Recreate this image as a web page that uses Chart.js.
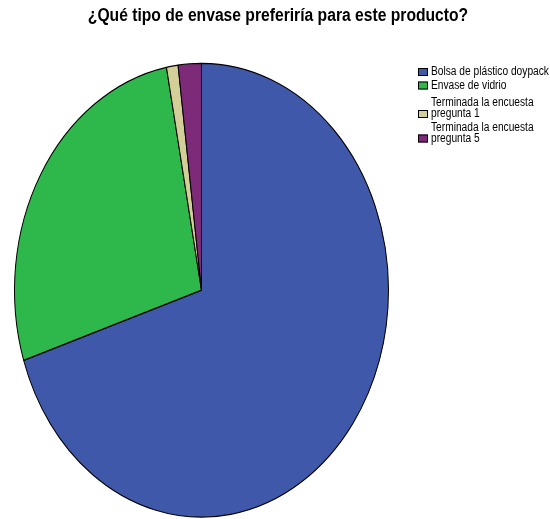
<!DOCTYPE html>
<html lang="es">
<head>
<meta charset="utf-8">
<title>Tipo de envase</title>
<script src="https://cdn.jsdelivr.net/npm/chart.js@4.4.1/dist/chart.umd.min.js"></script>
<style>
    html, body { margin: 0; padding: 0; background: #ffffff; }
    #contenedor { position: relative; width: 550px; height: 519px; }
</style>
</head>
<body>
<div id="contenedor">
    <canvas id="graficoEnvase"></canvas>
</div>
<script>
// Datos (porcentajes)
const titulo = '¿Qué tipo de envase preferiría para este producto?';
const categorias = [
    'Bolsa de plástico doypack',
    'Envase de vidrio',
    ['Terminada la encuesta', 'pregunta 1'],
    ['Terminada la encuesta', 'pregunta 5']
];
const valores = [70, 27, 1, 2];
const colores = ['#3F58AA', '#2EB84B', '#D4CF98', '#7D2B79'];

const fuente = "'Liberation Sans', Arial, sans-serif";

// El pastel original es una elipse: se estira en vertical alrededor del centro
const escalaVertical = 227.5 / 187.5;

const pluginElipse = {
    id: 'elipse',
    beforeDatasetsDraw(chart) {
        const arco = chart.getDatasetMeta(0).data[0];
        if (!arco) return;
        const ctx = chart.ctx;
        ctx.save();
        ctx.translate(arco.x, arco.y);
        ctx.scale(1, escalaVertical);
        ctx.translate(-arco.x, -arco.y);
    },
    afterDatasetsDraw(chart) {
        chart.ctx.restore();
    }
};

// Texto estrecho (imita Arial Narrow): se comprime en horizontal
function textoEstrecho(ctx, texto, x, y, factor) {
    ctx.save();
    ctx.translate(x, y);
    ctx.scale(factor, 1);
    ctx.fillText(texto, 0, 0);
    ctx.restore();
}

// Título y leyenda dibujados a mano (etiquetas de varias líneas, cuadro junto a la última línea)
const pluginLeyenda = {
    id: 'leyendaSpss',
    afterDraw(chart) {
        const ctx = chart.ctx;
        ctx.save();
        ctx.fillStyle = '#000000';
        ctx.textBaseline = 'middle';

        ctx.font = 'bold 18px ' + fuente;
        ctx.textAlign = 'center';
        textoEstrecho(ctx, titulo, 278, 16.5, 0.87);

        const filas = [72, 85.5, 103, 127.5];
        const altoLinea = 11;
        ctx.font = '12px ' + fuente;
        ctx.textAlign = 'left';
        chart.data.labels.forEach((etiqueta, i) => {
            const lineas = Array.isArray(etiqueta) ? etiqueta : [etiqueta];
            const y0 = filas[i];
            const yCuadro = y0 + (lineas.length - 1) * altoLinea;
            ctx.fillStyle = chart.data.datasets[0].backgroundColor[i];
            ctx.fillRect(418, yCuadro - 4, 10, 8);
            ctx.strokeStyle = '#000000';
            ctx.lineWidth = 1;
            ctx.strokeRect(418.5, yCuadro - 3.5, 9, 7);
            ctx.fillStyle = '#000000';
            lineas.forEach((linea, j) => {
                textoEstrecho(ctx, linea, 431, y0 + j * altoLinea, 0.85);
            });
        });
        ctx.restore();
    }
};

const ctx = document.getElementById('graficoEnvase');

const grafico = new Chart(ctx, {
    type: 'pie',
    data: {
        labels: categorias,
        datasets: [{
            data: valores,
            backgroundColor: colores,
            borderColor: '#000000',
            borderWidth: 1
        }]
    },
    options: {
        responsive: true,
        maintainAspectRatio: false,
        animation: false,
        events: [],
        layout: {
            padding: { left: 14, right: 161, top: 81.4, bottom: 20 }
        },
        plugins: {
            title: { display: false },
            legend: { display: false },
            tooltip: { enabled: false }
        }
    },
    plugins: [pluginElipse, pluginLeyenda]
});
</script>
</body>
</html>
